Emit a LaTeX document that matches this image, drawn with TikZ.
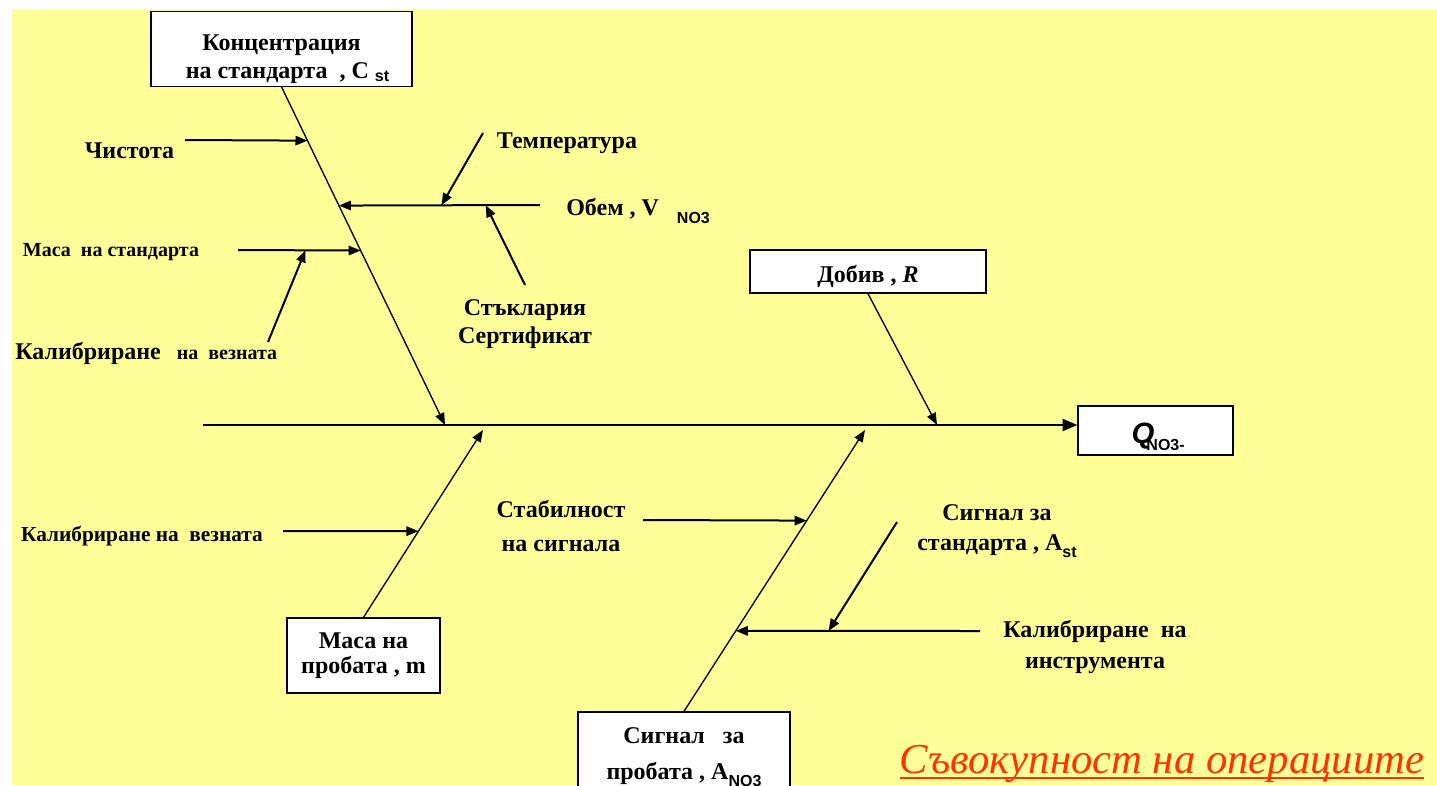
\documentclass[tikz,border=0pt]{standalone}
\usepackage{fontspec}
\setmainfont{Liberation Serif}
\setsansfont{Liberation Sans}
\usetikzlibrary{arrows.meta,calc}
\definecolor{bgyellow}{HTML}{FFFF99}
\definecolor{opred}{HTML}{FF3300}
\newcommand{\ssub}[2][5pt]{\raisebox{-#1}[0pt][0pt]{\sffamily\bfseries\fontsize{12}{14}\selectfont #2}}

\begin{document}
\begin{tikzpicture}[x=0.75pt, y=-0.75pt,
  box/.style={draw, fill=white, line width=1pt, inner sep=2pt, align=center, font=\bfseries\fontsize{18}{21}\selectfont},
  lbl/.style={inner sep=0pt, align=center, font=\bfseries\fontsize{18}{21}\selectfont},
  small/.style={inner sep=0pt, font=\bfseries\fontsize{15}{18}\selectfont},
  bone/.style={line width=1pt, -{Triangle[length=9pt,width=7pt]}},
  cause/.style={line width=1.5pt, -{Triangle[length=9pt,width=7pt]}},
  spine/.style={line width=1.6pt, -{Triangle[length=11pt,width=9pt]}}]
  \useasboundingbox (0,0) rectangle (1437,785);
  \clip (0,0) rectangle (1437,785);
  \fill[white] (0,0) rectangle (1437,785);
  \fill[bgyellow] (12,9) rectangle (1437,785);

  % boxes
  \node[box, minimum width=195.75pt, minimum height=55.5pt] (kbox) at (281.5,49) {\rule{0pt}{27pt}Концентрация\\ \ \ на стандарта\ \ , C \ssub[2.5pt]{st}};
  \node[box, minimum width=177pt, minimum height=32.25pt] (dob) at (868,271.5) {\rule{0pt}{20pt}Добив , \textit{R}};
  \node[box, minimum width=116.25pt, minimum height=36.75pt] (q) at (1155.5,430.5)
    {\hspace*{4pt}\rule{0pt}{24pt}{\sffamily\bfseries\itshape\fontsize{22}{24}\selectfont Q}\hspace{-6pt}\raisebox{-5pt}[0pt][0pt]{\sffamily\bfseries\fontsize{12}{13}\selectfont NO3-}};
  \node[box, minimum width=114.75pt, minimum height=56.25pt] (mp) at (363.5,655.5) {Маса на\\[-2pt] пробата , m};
  \node[box, minimum width=159pt, minimum height=66pt] (sp) at (684,756) {Сигнал\ \ \ за\\[6pt] пробата , A\ssub{NO3}};

  % labels
  \node[lbl] (cist) at (129.5,151) {Чистота};
  \node[lbl] (temp) at (567,143) {Температура};
  \node[lbl, anchor=base west] (obem) at (566,215) {Обем , V\ \ \ \ssub[6pt]{NO3}};
  \node[lbl] (glass) at (525,324) {Стъклария\\Сертификат};
  \node[small] (mst) at (111,252) {Маса\ \ на стандарта};
  \node[lbl, anchor=base west] (kv1) at (15,359) {Калибриране {\fontsize{15}{18}\selectfont\ \ на\ \ везната}};
  \node[lbl, font=\bfseries\fontsize{16}{19}\selectfont] (kv2) at (142,536) {Калибриране на\ \ везната};
  \node[lbl] (stab) at (561,526) {Стабилност\\[5pt] на сигнала};
  \node[lbl] (sst) at (997,530) {Сигнал за\\[2pt] стандарта , A\ssub{st}};
  \node[lbl] (kin) at (1095,647) {Калибриране\ \ на\\[2pt] инструмента};
  \node[anchor=base, inner sep=0pt, text=opred, font=\itshape\fontsize{32}{36}\selectfont] (ops) at (1162,773) {Съвокупност на операциите};
  \draw[opred, line width=1.5pt] ([yshift=-4pt]ops.base west) -- ([yshift=-4pt]ops.base east);

  % spine and bones
  \coordinate (s0) at (203,425);
  \coordinate (j1) at (445,425);
  \coordinate (j2) at (937,425);
  \coordinate (j3) at (483,430);
  \coordinate (j4) at (865,430);
  \draw[spine] (s0) -- (s0 -| q.west);
  \draw[bone] (kbox.south) -- (j1);
  \draw[bone] (dob.south) -- (j2);
  \draw[bone] (mp.north) -- (j3);
  \draw[bone] (sp.north) -- (j4);

  % points on the bones
  \coordinate (b1a) at ($(kbox.south)!0.159!(j1)$);
  \coordinate (b1b) at ($(kbox.south)!0.351!(j1)$);
  \coordinate (b1c) at ($(kbox.south)!0.484!(j1)$);
  \coordinate (b3a) at ($(mp.north)!0.46!(j3)$);
  \coordinate (b4a) at ($(sp.north)!0.678!(j4)$);
  \coordinate (b4b) at ($(sp.north)!0.286!(j4)$);

  % causes
  \coordinate (t1) at (185,140);
  \coordinate (t2) at (540,205);
  \coordinate (t3) at (483,133);
  \coordinate (t4) at (525,285);
  \coordinate (t5) at (238,250);
  \coordinate (t6) at (268,342);
  \coordinate (t7) at (283,531);
  \coordinate (t8) at (643,520);
  \coordinate (t9) at (980,631);
  \coordinate (t10) at (897,522);
  \coordinate (o1) at ($(t2)!0.49!(b1b)$);
  \coordinate (o2) at ($(t2)!0.27!(b1b)$);
  \coordinate (m1) at ($(t5)!0.55!(b1c)$);
  \coordinate (k1) at ($(t9)!0.62!(b4b)$);

  \draw[cause] (t1) -- (b1a);
  \draw[cause] (t2) -- (b1b);
  \draw[cause] (t3) -- (o1);
  \draw[cause] (t4) -- (o2);
  \draw[cause] (t5) -- (b1c);
  \draw[cause] (t6) -- (m1);
  \draw[cause] (t7) -- (b3a);
  \draw[cause] (t8) -- (b4a);
  \draw[cause] (t9) -- (b4b);
  \draw[cause] (t10) -- (k1);
\end{tikzpicture}
\end{document}
